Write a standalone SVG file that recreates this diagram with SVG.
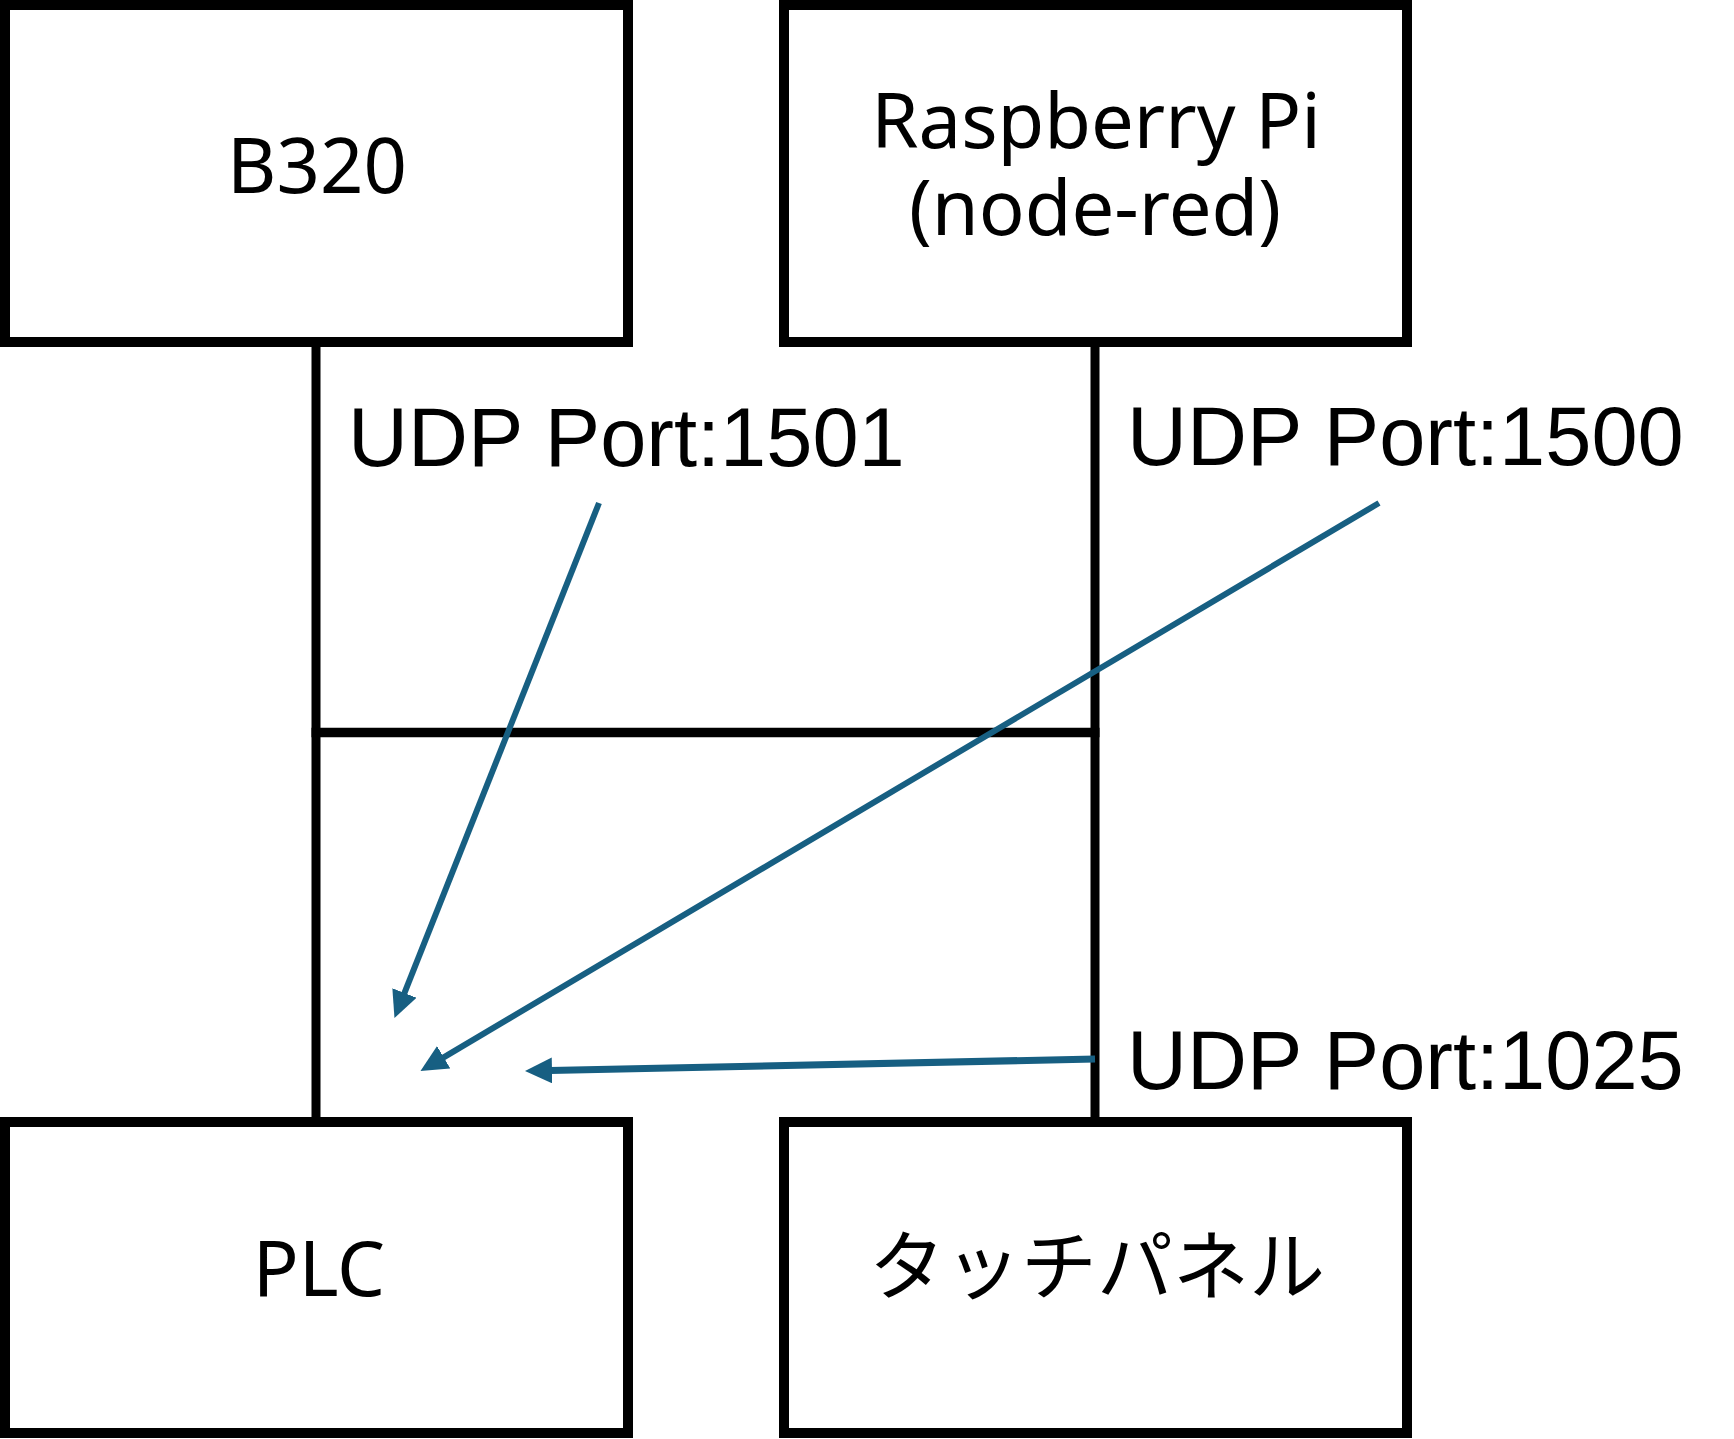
<svg xmlns="http://www.w3.org/2000/svg" width="1734" height="1439" viewBox="0 0 1734 1439">
<style>
.box{fill:#fff;stroke:#000;stroke-width:10}
.wire{stroke:#000;fill:none}
.lbl{font-family:"Noto Sans","Noto Sans CJK JP",sans-serif;font-size:76px;fill:#000;text-anchor:middle}
.port{font-family:"Liberation Sans",Arial,sans-serif;font-size:83px;fill:#000}
.arr{stroke:#175f82;fill:none}
</style>
<defs>
<marker id="ah" markerUnits="userSpaceOnUse" markerWidth="27" markerHeight="26" refX="2" refY="13" orient="auto" viewBox="0 0 27 26">
<path d="M0,0 L27,13 L0,26 z" fill="#175f82"/>
</marker>
</defs>
<rect width="1734" height="1439" fill="#fff"/>
<g id="lines">
<line class="wire" x1="316" y1="347" x2="316" y2="1117" stroke-width="9"/>
<line class="wire" x1="1095" y1="347" x2="1095" y2="1117" stroke-width="9"/>
<line class="wire" x1="311.5" y1="732.5" x2="1099.5" y2="732.5" stroke-width="9.5"/>
</g>
<g id="b320">
<rect class="box" x="5" y="5" width="623" height="337"/>
<text class="lbl" x="317" y="193">B320</text>
</g>
<g id="raspi">
<rect class="box" x="784" y="5" width="623" height="337"/>
<text class="lbl" x="1096" y="148">Raspberry Pi<tspan x="1095" dy="87">(node-red)</tspan></text>
</g>
<g id="plc">
<rect class="box" x="5" y="1122" width="623" height="311"/>
<text class="lbl" x="319" y="1296">PLC</text>
</g>
<g id="touch">
<rect class="box" x="784" y="1122" width="623" height="311"/>
<text class="lbl" x="1097" y="1294">タッチパネル</text>
</g>
<g id="labels">
<text class="port" x="348" y="466">UDP Port:1501</text>
<text class="port" x="1127" y="465">UDP Port:1500</text>
<text class="port" x="1127" y="1089">UDP Port:1025</text>
</g>
<g id="connectors">
<line class="arr" x1="599" y1="503" x2="403.7" y2="994.8" stroke-width="6" marker-end="url(#ah)"/>
<line class="arr" x1="1379" y1="503" x2="442" y2="1058.3" stroke-width="6" marker-end="url(#ah)"/>
<line class="arr" x1="1095" y1="1059" x2="550" y2="1070.5" stroke-width="7" marker-end="url(#ah)"/>
</g>
</svg>
